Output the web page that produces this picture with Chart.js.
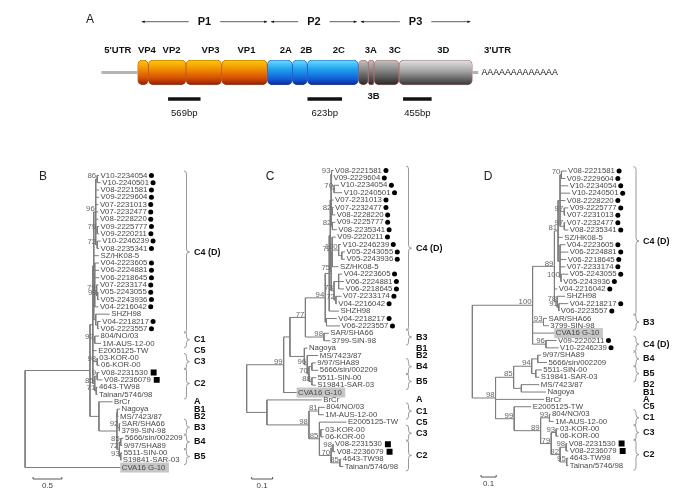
<!DOCTYPE html>
<html>
<head>
<meta charset="utf-8">
<script src="https://cdn.jsdelivr.net/npm/chart.js@4.4.0/dist/chart.umd.min.js"></script>
<style>
  body { margin: 0; background: #fff; }
  #wrap { position: relative; width: 685px; height: 501px; overflow: hidden; }
  canvas { position: absolute; }
</style>
</head>
<body>
<div id="wrap">
  <canvas id="genome" width="685" height="150" style="left:0;top:0"></canvas>
  <canvas id="treeB" width="230" height="351" style="left:0;top:150px"></canvas>
  <canvas id="treeC" width="230" height="351" style="left:220px;top:150px"></canvas>
  <canvas id="treeD" width="250" height="351" style="left:435px;top:150px"></canvas>
</div>
<script>
// ---- panel A: genome map (positions in map units) ----
const regions = ['VP4', 'VP2', 'VP3', 'VP1', '2A', '2B', '2C', '3A', '3B', '3C', '3D'];
const regionStart = [137.7, 148.3, 186, 221.7, 267.3, 292.3, 307.3, 358.3, 368.3, 374, 399];
const regionEnd = [148.3, 186, 221.7, 267.3, 292.3, 307.3, 358.3, 368.3, 374, 399, 472.4];
const regionGroup = ['P1', 'P1', 'P1', 'P1', 'P2', 'P2', 'P2', 'P3', 'P3', 'P3', 'P3D'];
const utrStart = [101.8, 472.4];
const utrEnd = [137.7, 478];
const topLabels = ["5'UTR", 'VP4', 'VP2', 'VP3', 'VP1', '2A', '2B', '2C', '3A', '3C', '3D', "3'UTR"];
const topLabelAt = [117.8, 146.9, 171.6, 210.6, 246.5, 285.9, 306.2, 338.9, 370.8, 394.7, 443.3, 497.5];
const proteins = ['P1', 'P2', 'P3'];
const proteinStart = [141.7, 271, 360.8];
const proteinEnd = [267.2, 356.8, 470.4];
const amplicons = ['569bp', '623bp', '455bp'];
const ampliconStart = [168.4, 307.8, 403.4];
const ampliconEnd = [200.2, 341.7, 431.3];
const polyA = 'AAAAAAAAAAAAA';
const polyAAt = 481.5;

// ---- panels B-D: trees, "name:distance from root" with bootstrap after ")" ----
const treeB = [
  '((((((V10-2234054:1.280,V10-2240501:1.308)86:1.247,',
  'V08-2221581:1.280,V09-2229604:1.280,V07-2231013:1.268,V07-2232477:1.268,V08-2228220:1.268,',
  '(V09-2225777:1.280,V09-2220211:1.280)79:1.247,',
  '(V10-2246239:1.308,V08-2235341:1.280)72:1.247)96:1.222,',
  'SZ/HK08-5:1.280,',
  '(V04-2223605:1.280,V06-2224881:1.280,V06-2218645:1.280,',
  '(V07-2233174:1.268,(V05-2243055:1.268,V05-2243936:1.280)99:1.255)79:1.238,',
  'V04-2216042:1.268):1.205,',
  '(SHZH98:1.463,(V04-2218217:1.308,V06-2223557:1.280):1.255):1.222):1.188,',
  '(804/NO/03:1.280,1M-AUS-12-00:1.313)92:1.205,',
  'E2005125-TW:1.238,',
  '(03-KOR-00:1.258,06-KOR-00:1.288)98:1.247,',
  '((V08-2231530:1.285,V08-2236079:1.338)9:1.247,(4643-TW98:1.252,Tainan/5746/98:1.252)71:1.230)85:1.205',
  '):1.172,',
  '(BrCr:1.513,((Nagoya:1.642,MS/7423/87:1.617):1.595,',
  '(SAR/SHA66:1.647,3799-SIN-98:1.642)92:1.630,',
  '((5666/sin/002209:1.702,9/97/SHA89:1.680)85:1.655,(5511-SIN-00:1.680,S19841-SAR-03:1.663)93:1.655)72:1.630',
  '):1.588):1.277',
  '):1.122,',
  'CVA16 G-10:1.647)'
];
const treeC = [
  '((((((((',
  '(V08-2221581:0.416,V09-2229604:0.408)93:0.406,',
  '(V10-2234054:0.442,V10-2240501:0.457)70:0.418,',
  'V07-2231013:0.416,',
  '(V07-2232477:0.416,V08-2228220:0.424)82:0.410,',
  '(V09-2225777:0.424,V08-2235341:0.431)82:0.410',
  '):0.404,(',
  '(V09-2220211:0.426,(V10-2246239:0.451,(V05-2243055:0.470,V05-2243936:0.470):0.455)100:0.440,SZ/HK08-5:0.439)72:0.409,',
  '((V04-2223605:0.457,V06-2224881:0.466,V06-2218645:0.466):0.440,(V07-2233174:0.454,V04-2216042:0.431)72:0.427)73:0.418',
  ')75:0.404):0.400,',
  'SHZH98:0.442):0.395,',
  '(V04-2218217:0.431,V06-2223557:0.447):0.382',
  ')94:0.376,',
  '(SAR/SHA66:0.393,3799-SIN-98:0.400)98:0.370',
  ')77:0.281,',
  '(Nagoya:0.291,(MS/7423/87:0.342,((9/97/SHA89:0.331,5666/sin/002209:0.343):0.312,(5511-SIN-00:0.333,S19841-SAR-03:0.331)88:0.312)70:0.298)96:0.290):0.276',
  '):0.207,',
  'CVA16 G-10:0.239',
  ')99:0.177,',
  '(BrCr:0.359,((804/NO/03:0.374,1M-AUS-12-00:0.369)81:0.344,(E2005125-TW:0.477,(03-KOR-00:0.369,06-KOR-00:0.369):0.355,',
  '((V08-2231530:0.416,V08-2236079:0.424)98:0.413,(4643-TW98:0.453,Tainan/5746/98:0.462)85:0.446)70:0.404)85:0.348)98:0.298):0.097',
  ')'
];
const treeD = [
  '(((((',
  '(V08-2221581:0.621,V09-2229604:0.613)70:0.587,',
  'V10-2234054:0.632,V10-2240501:0.645,V08-2228220:0.613,',
  '(V09-2225777:0.632,V07-2231013:0.613)97:0.606,',
  '(V07-2232477:0.613,V08-2235341:0.632)97:0.606',
  '):0.578,',
  'SZ/HK08-5:0.596,',
  '(V04-2223605:0.613,V06-2224881:0.632,V06-2218645:0.619,V07-2233174:0.613,(V05-2243055:0.632,V05-2243936:0.590)100:0.584):0.578',
  ')81:0.565,',
  'V04-2216042:0.560,',
  '(SHZH98:0.611,(V04-2218217:0.632,V06-2223557:0.573)91:0.570)78:0.559',
  ')89:0.541,',
  '(SAR/SHA66:0.492,3799-SIN-98:0.504)93:0.469,',
  'CVA16 G-10:0.540,',
  '(V09-2220211:0.555,V10-2246239:0.568)96:0.485',
  ')100:0.397,(',
  '(((9/97/SHA89:0.452,5666/sin/002209:0.492):0.431,(5511-SIN-00:0.458,S19841-SAR-03:0.441):0.418)94:0.391,(MS/7423/87:0.441,Nagoya:0.485):0.323)85:0.272,',
  'BrCr:0.473,',
  '(E2005125-TW:0.388,((804/NO/03:0.515,1M-AUS-12-00:0.536)93:0.508,((03-KOR-00:0.568,06-KOR-00:0.568)93:0.552,',
  '((V08-2231530:0.625,V08-2236079:0.632)98:0.618,(4643-TW98:0.632,Tainan/5746/98:0.632)95:0.622)92:0.578)79:0.520)89:0.450)99:0.276',
  ')98:0.153)'
];

const circleStrains = ['V10-2234054', 'V10-2240501', 'V08-2221581', 'V09-2229604', 'V07-2231013',
  'V07-2232477', 'V08-2228220', 'V09-2225777', 'V09-2220211', 'V10-2246239', 'V08-2235341',
  'V04-2223605', 'V06-2224881', 'V06-2218645', 'V07-2233174', 'V05-2243055', 'V05-2243936',
  'V04-2216042', 'V04-2218217', 'V06-2223557'];
const squareStrains = ['V08-2231530', 'V08-2236079'];
const highlighted = ['CVA16 G-10'];

const cladesB = [
  ['V10-2234054', 'V06-2223557', 'C4 (D)'], ['804/NO/03', '1M-AUS-12-00', 'C1'],
  ['E2005125-TW', 'E2005125-TW', 'C5'], ['03-KOR-00', '06-KOR-00', 'C3'],
  ['V08-2231530', 'Tainan/5746/98', 'C2'], ['BrCr', 'BrCr', 'A'], ['Nagoya', 'Nagoya', 'B1'],
  ['MS/7423/87', 'MS/7423/87', 'B2'], ['SAR/SHA66', '3799-SIN-98', 'B3'],
  ['5666/sin/002209', '9/97/SHA89', 'B4'], ['5511-SIN-00', 'S19841-SAR-03', 'B5']
];
const cladesC = [
  ['V08-2221581', 'V06-2223557', 'C4 (D)'], ['SAR/SHA66', '3799-SIN-98', 'B3'],
  ['Nagoya', 'Nagoya', 'B1'], ['MS/7423/87', 'MS/7423/87', 'B2'],
  ['9/97/SHA89', '5666/sin/002209', 'B4'], ['5511-SIN-00', 'S19841-SAR-03', 'B5'],
  ['BrCr', 'BrCr', 'A'], ['804/NO/03', '1M-AUS-12-00', 'C1'], ['E2005125-TW', 'E2005125-TW', 'C5'],
  ['03-KOR-00', '06-KOR-00', 'C3'], ['V08-2231530', 'Tainan/5746/98', 'C2']
];
const cladesD = [
  ['V08-2221581', 'V06-2223557', 'C4 (D)'], ['SAR/SHA66', '3799-SIN-98', 'B3'],
  ['V09-2220211', 'V10-2246239', 'C4 (D)'], ['9/97/SHA89', '5666/sin/002209', 'B4'],
  ['5511-SIN-00', 'S19841-SAR-03', 'B5'], ['MS/7423/87', 'MS/7423/87', 'B2'],
  ['Nagoya', 'Nagoya', 'B1'], ['BrCr', 'BrCr', 'A'], ['E2005125-TW', 'E2005125-TW', 'C5'],
  ['804/NO/03', '1M-AUS-12-00', 'C1'], ['03-KOR-00', '06-KOR-00', 'C3'],
  ['V08-2231530', 'Tainan/5746/98', 'C2']
];

// ---- layout ----
const leafFont = '7.8px Arial';
const labelGap = 1.5;
const panelB = { left: 0, top: 150, width: 230, height: 351, rootX: 21.7, ppu: 60, firstY: 171.7, step: 7.4825,
  braceX: 186.5, cladeX: 194, letter: 'B', letterX: 43, letterY: 177, barX: 33, barY: 479, barLen: 0.5, barText: '0.5' };
const panelC = { left: 220, top: 150, width: 230, height: 351, rootX: 243.3, ppu: 217, firstY: 166.7, step: 7.5825,
  braceX: 408.5, cladeX: 416, letter: 'C', letterX: 270, letterY: 177, barX: 251.7, barY: 479, barLen: 0.1, barText: '0.1' };
const panelD = { left: 435, top: 150, width: 250, height: 351, rootX: 469.3, ppu: 157, firstY: 167.3, step: 7.545,
  braceX: 636, cladeX: 643, letter: 'D', letterX: 488, letterY: 177, barX: 481, barY: 477, barLen: 0.1, barText: '0.1' };

const measure = document.createElement('canvas').getContext('2d');
measure.font = leafFont;

function parseTree(str) {
  let i = 0;
  function node() {
    const n = { children: [], name: '', depth: 0 };
    if (str[i] === '(') {
      i++;
      n.children.push(node());
      while (str[i] === ',') { i++; n.children.push(node()); }
      i++;
    }
    let s = i;
    while (i < str.length && !'(),:'.includes(str[i])) i++;
    n.name = str.slice(s, i);
    if (str[i] === ':') {
      i++; s = i;
      while (i < str.length && !'(),'.includes(str[i])) i++;
      n.depth = parseFloat(str.slice(s, i));
    }
    return n;
  }
  return node();
}

function brace(ctx, x, y1, y2) {
  const m = (y1 + y2) / 2;
  ctx.beginPath();
  ctx.moveTo(x - 2.5, y1);
  ctx.quadraticCurveTo(x, y1, x, y1 + 3);
  ctx.lineTo(x, m - 3);
  ctx.quadraticCurveTo(x, m, x + 3, m);
  ctx.quadraticCurveTo(x, m, x, m + 3);
  ctx.lineTo(x, y2 - 3);
  ctx.quadraticCurveTo(x, y2, x - 2.5, y2);
  ctx.stroke();
}

function makeTree(id, panel, pieces, clades) {
  const root = parseTree(pieces.join(''));
  const leaves = [], inner = [];
  (function lay(n) {
    if (!n.children.length) { n.y = leaves.length; leaves.push(n); return; }
    n.children.forEach(lay);
    n.y = (n.children[0].y + n.children[n.children.length - 1].y) / 2;
    inner.push(n);
  })(root);

  const branches = [];
  inner.forEach(n => {
    const last = n.children[n.children.length - 1];
    branches.push({ x: n.depth, y: n.children[0].y }, { x: n.depth, y: last.y }, { x: null, y: null });
    n.children.forEach(c => branches.push({ x: n.depth, y: c.y }, { x: c.depth, y: c.y }, { x: null, y: null }));
  });

  const dots = [], squares = [];
  leaves.forEach(l => {
    const w = measure.measureText(l.name).width;
    if (circleStrains.includes(l.name)) dots.push({ x: l.depth + (labelGap + w + 6) / panel.ppu, y: l.y });
    if (squareStrains.includes(l.name)) squares.push({ x: l.depth + (labelGap + w + 8) / panel.ppu, y: l.y });
  });
  const rowOf = name => leaves.findIndex(l => l.name === name);

  const labels = {
    id: 'treeLabels',
    beforeDatasetsDraw(chart) {
      const { ctx, scales: { x, y } } = chart;
      ctx.save();
      ctx.font = leafFont;
      leaves.filter(l => highlighted.includes(l.name)).forEach(l => {
        const px = x.getPixelForValue(l.depth), py = y.getPixelForValue(l.y);
        ctx.fillStyle = '#c6c6c6';
        ctx.fillRect(px, py - 5, ctx.measureText(l.name).width + 5, 10);
      });
      ctx.restore();
    },
    afterDatasetsDraw(chart) {
      const { ctx, scales: { x, y } } = chart;
      ctx.save();
      ctx.font = leafFont;
      ctx.textBaseline = 'middle';
      ctx.fillStyle = '#484848';
      ctx.textAlign = 'left';
      leaves.forEach(l => ctx.fillText(l.name, x.getPixelForValue(l.depth) + labelGap, y.getPixelForValue(l.y)));
      ctx.fillStyle = '#666';
      ctx.textAlign = 'right';
      inner.filter(n => n.name).forEach(n =>
        ctx.fillText(n.name, x.getPixelForValue(n.depth) - 1, y.getPixelForValue(n.y) - 3));

      ctx.strokeStyle = '#999';
      ctx.lineWidth = 1;
      ctx.fillStyle = '#111';
      ctx.textAlign = 'left';
      ctx.font = 'bold 9px Arial';
      const bx = panel.braceX - panel.left, lx = panel.cladeX - panel.left;
      clades.forEach(([a, b, text]) => {
        const y1 = y.getPixelForValue(rowOf(a)), y2 = y.getPixelForValue(rowOf(b));
        if (a !== b) brace(ctx, bx, y1 - 4.5, y2 + 4.5);
        ctx.fillText(text, lx, (y1 + y2) / 2);
      });

      // scale bar
      const sx = panel.barX - panel.left, sy = panel.barY - panel.top;
      const len = x.getPixelForValue(panel.barLen) - x.getPixelForValue(0);
      ctx.strokeStyle = '#555';
      ctx.beginPath();
      ctx.moveTo(sx, sy - 2); ctx.lineTo(sx, sy); ctx.lineTo(sx + len, sy); ctx.lineTo(sx + len, sy - 2);
      ctx.stroke();
      ctx.font = '8px Arial';
      ctx.fillStyle = '#444';
      ctx.textAlign = 'center';
      ctx.fillText(panel.barText, sx + len / 2, sy + 7);

      ctx.font = '12px Arial';
      ctx.fillStyle = '#222';
      ctx.fillText(panel.letter, panel.letterX - panel.left, panel.letterY - panel.top);
      ctx.restore();
    }
  };

  return new Chart(document.getElementById(id), {
    type: 'scatter',
    data: {
      datasets: [
        { data: branches, showLine: true, pointRadius: 0, borderColor: '#7c7c7c', borderWidth: 1, spanGaps: false },
        { data: dots, pointStyle: 'circle', pointRadius: 2.5, backgroundColor: '#000', borderWidth: 0 },
        { data: squares, pointStyle: 'rect', pointRadius: 4.2, backgroundColor: '#000', borderWidth: 0 }
      ]
    },
    options: {
      responsive: false,
      animation: false,
      events: [],
      layout: { padding: 0 },
      plugins: { legend: { display: false }, tooltip: { enabled: false } },
      scales: {
        x: { type: 'linear', display: false,
             min: (panel.left - panel.rootX) / panel.ppu,
             max: (panel.left + panel.width - panel.rootX) / panel.ppu },
        y: { type: 'linear', display: false, reverse: true,
             min: (panel.top - panel.firstY) / panel.step,
             max: (panel.top + panel.height - panel.firstY) / panel.step }
      }
    },
    plugins: [labels]
  });
}

// ---- genome chart ----
const fills = {
  P1: [[0, '#f8cc10'], [0.3, '#f29c00'], [0.7, '#d85400'], [1, '#9c1a00']],
  P2: [[0, '#70dcff'], [0.35, '#22a6ee'], [0.75, '#1060d8'], [1, '#0826a0']],
  P3: [[0, '#c4c4c4'], [0.45, '#808080'], [1, '#262626']],
  P3D: [[0, '#e2e2e2'], [0.45, '#a4a4a4'], [1, '#343434']]
};
const edges = { P1: '#c4581a', P2: '#2d5cc4', P3: '#c06a6a', P3D: '#b07070' };

// bar band of the genome row: 25 px tall, centred at y = 72.5
const genomeCanvas = document.getElementById('genome');
const gctx = genomeCanvas.getContext('2d');
function gradient(stops) {
  const g = gctx.createLinearGradient(0, 60, 0, 85);
  stops.forEach(s => g.addColorStop(s[0], s[1]));
  return g;
}

const genomeSets = [];
utrStart.forEach((s, i) => genomeSets.push({
  data: [[s, utrEnd[i]], null], backgroundColor: '#b4b4b4', barThickness: 2.5, grouped: false
}));
regions.forEach((r, i) => genomeSets.push({
  label: r, data: [[regionStart[i], regionEnd[i]], null],
  backgroundColor: gradient(fills[regionGroup[i]]), borderColor: edges[regionGroup[i]],
  borderWidth: 0.8, borderSkipped: false, borderRadius: 5, barThickness: 25, grouped: false
}));
amplicons.forEach((a, i) => genomeSets.push({
  label: a, data: [null, [ampliconStart[i], ampliconEnd[i]]], backgroundColor: '#111', barThickness: 3, grouped: false
}));

const genomeText = {
  id: 'genomeText',
  afterDatasetsDraw(chart) {
    const { ctx, scales: { x } } = chart;
    ctx.save();
    ctx.fillStyle = '#111';
    ctx.textBaseline = 'middle';
    ctx.textAlign = 'center';

    ctx.font = 'bold 11px Arial';
    ctx.strokeStyle = '#333';
    ctx.lineWidth = 0.8;
    proteins.forEach((p, i) => {
      const a = x.getPixelForValue(proteinStart[i]), b = x.getPixelForValue(proteinEnd[i]);
      const m = (a + b) / 2, half = ctx.measureText(p).width / 2 + 9, yy = 21.7;
      ctx.fillText(p, m, yy);
      ctx.beginPath();
      ctx.moveTo(a, yy); ctx.lineTo(m - half, yy);
      ctx.moveTo(m + half, yy); ctx.lineTo(b, yy);
      ctx.stroke();
      ctx.beginPath(); ctx.moveTo(a, yy); ctx.lineTo(a + 3, yy - 1.3); ctx.lineTo(a + 3, yy + 1.3); ctx.fill();
      ctx.beginPath(); ctx.moveTo(b, yy); ctx.lineTo(b - 3, yy - 1.3); ctx.lineTo(b - 3, yy + 1.3); ctx.fill();
    });

    ctx.font = 'bold 9.5px Arial';
    topLabels.forEach((t, i) => ctx.fillText(t, x.getPixelForValue(topLabelAt[i]), 50.7));
    ctx.fillText('3B', x.getPixelForValue((regionStart[8] + regionEnd[8]) / 2 + 2.3), 96.7);

    ctx.font = '9.5px Arial';
    amplicons.forEach((a, i) => ctx.fillText(a, x.getPixelForValue((ampliconStart[i] + ampliconEnd[i]) / 2), 113.3));

    ctx.font = '8.8px Arial';
    ctx.textAlign = 'left';
    ctx.fillText(polyA, x.getPixelForValue(polyAAt), 72.8);

    ctx.font = '12px Arial';
    ctx.fillStyle = '#222';
    ctx.fillText('A', 86, 20);
    ctx.restore();
  }
};

new Chart(genomeCanvas, {
  type: 'bar',
  data: { labels: ['genome', 'amplicons'], datasets: genomeSets },
  options: {
    indexAxis: 'y',
    responsive: false,
    animation: false,
    events: [],
    layout: { padding: { top: 59.25, bottom: 37.75, left: 0, right: 0 } },
    plugins: { legend: { display: false }, tooltip: { enabled: false } },
    scales: {
      x: { type: 'linear', min: 0, max: 685, display: false },
      y: { display: false }
    }
  },
  plugins: [genomeText]
});

makeTree('treeB', panelB, treeB, cladesB);
makeTree('treeC', panelC, treeC, cladesC);
makeTree('treeD', panelD, treeD, cladesD);
</script>
</body>
</html>
